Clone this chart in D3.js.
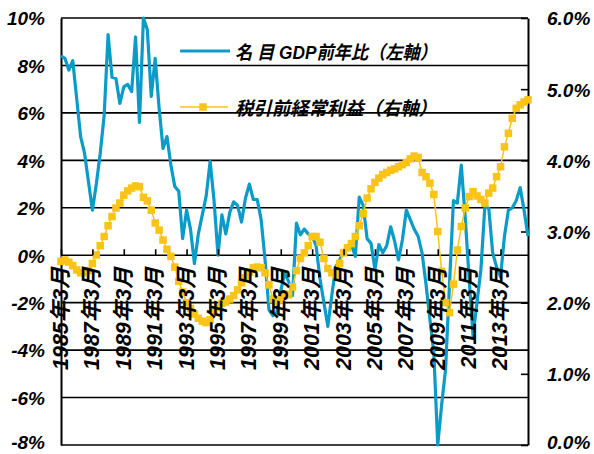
<!DOCTYPE html>
<html>
<head>
<meta charset="utf-8">
<script src="https://cdnjs.cloudflare.com/ajax/libs/d3/7.8.5/d3.min.js"></script>
<style>
  body { margin: 0; background: #fff; }
  text {
    font-family: "Liberation Sans", Arial, "Noto Sans CJK JP", sans-serif;
    font-weight: bold;
    font-style: italic;
    fill: #000;
  }
</style>
</head>
<body>
<svg id="chart" width="594" height="454"></svg>
<script>
// quarterly categories, 1985年3月 .. 2014年12月
const quarters = [];
for (let yr = 1985; yr <= 2014; yr++) {
  [3, 6, 9, 12].forEach(m => quarters.push(yr + '年' + m + '月'));
}

const tickLabels = ['1985年3月', '1987年3月', '1989年3月', '1991年3月', '1993年3月',
  '1995年3月', '1997年3月', '1999年3月', '2001年3月', '2003年3月', '2005年3月',
  '2007年3月', '2009年3月', '2011年3月', '2013年3月'];

const leftTicks = [-8, -6, -4, -2, 0, 2, 4, 6, 8, 10];
const rightTicks = [0, 1, 2, 3, 4, 5, 6];

const seriesNames = ['名 目 GDP前年比（左軸）', '税引前経常利益（右軸）'];

// 名目GDP前年比 (%)
const gdp = [
  8.4, 8.3, 7.8, 8.2, 6.6, 5.0, 4.3, 3.1, 1.9, 3.0,
  4.3, 5.9, 9.3, 7.5, 7.45, 6.4, 7.1, 7.2, 6.9, 9.2,
  5.6, 10.0, 9.5, 6.7, 8.3, 6.2, 4.5, 5.0, 3.8, 2.9,
  2.7, 0.7, 1.9, 1.1, -0.35, 0.9, 1.7, 2.5, 3.95, 2.3,
  0.0, 1.7, 0.9, 1.8, 2.25, 2.1, 1.4, 2.4, 3.0, 2.35,
  2.35, 1.5, -0.2, -2.3, -2.55, -2.4, -1.5, -0.75, -1.1, -1.7,
  1.35, 0.86, 1.1, 0.9, 0.8, 0.4, -1.0, -2.0, -3.0, -1.7,
  -0.5, -0.2, 0.15, 0.4, 0.45, -0.05, 2.45, 2.1, 0.7, 0.5,
  -0.6, 0.45, 0.1, 0.4, 1.2, 0.6, -0.2, 0.65, 1.9, 1.5,
  1.1, 0.8, 0.1, -1.2, -2.7, -4.1, -8.0, -6.3, -4.8, -1.2,
  2.3, 2.2, 3.8, 1.6, -1.0, -3.4, -2.0, -0.6, 2.05, 1.98,
  0.1, -0.5, -0.9, 0.8, 1.9, 2.0, 2.3, 2.85, 1.9, 0.8
];

// 税引前経常利益 (%)
const profit = [
  2.58, 2.6, 2.57, 2.52, 2.46, 2.42, 2.42, 2.45, 2.55, 2.67,
  2.8, 2.93, 3.08, 3.21, 3.33, 3.40, 3.51, 3.57, 3.61, 3.64,
  3.63, 3.48, 3.43, 3.30, 3.12, 3.02, 2.88, 2.75, 2.65, 2.5,
  2.3, 2.15, 2.0, 1.92, 1.84, 1.78, 1.74, 1.72, 1.76, 1.86,
  1.93, 1.99, 2.01, 2.05, 2.10, 2.18, 2.28, 2.35, 2.43, 2.49,
  2.50, 2.49, 2.42, 2.25, 2.05, 2.02, 2.04, 2.12, 2.11, 2.22,
  2.45, 2.62, 2.70, 2.80, 2.93, 2.93, 2.85, 2.62, 2.48, 2.42,
  2.39, 2.55, 2.70, 2.77, 2.83, 2.93, 3.08, 3.25, 3.47, 3.60,
  3.69, 3.75, 3.80, 3.83, 3.86, 3.88, 3.91, 3.94, 3.97, 4.02,
  4.06, 4.04, 3.83, 3.77, 3.68, 3.52, 3.0, 2.44, 2.0, 1.86,
  2.26, 2.74, 3.07, 3.33, 3.49, 3.56, 3.50, 3.45, 3.40, 3.54,
  3.61, 3.77, 3.91, 4.19, 4.38, 4.59, 4.73, 4.78, 4.82, 4.85
];

const blue = '#0a9bc8';
const gold = '#f9c416';

const svg = d3.select('#chart');
const plot = {left: 61, right: 528, top: 18, bottom: 445};

const x = d3.scalePoint()
  .domain(quarters)
  .range([plot.left, plot.right]);

const yL = d3.scaleLinear()
  .domain([-8, 10])
  .range([plot.bottom, plot.top]);

const yR = d3.scaleLinear()
  .domain([0, 6])
  .range([plot.bottom, plot.top]);

svg.append('rect')
  .attr('width', 594).attr('height', 454)
  .attr('fill', '#fff');

// gridlines
svg.append('g')
  .selectAll('line')
  .data(leftTicks)
  .enter().append('line')
  .attr('x1', plot.left).attr('x2', plot.right)
  .attr('y1', d => yL(d)).attr('y2', d => yL(d))
  .attr('stroke', '#000')
  .attr('stroke-width', 1.6);

// left axis
const leftAxis = svg.append('g')
  .attr('transform', 'translate(' + plot.left + ',0)')
  .call(d3.axisLeft(yL).tickValues(leftTicks).tickSize(0).tickPadding(16)
    .tickFormat(d => d + '%'));
leftAxis.select('.domain').attr('stroke', '#000').attr('stroke-width', 2);
leftAxis.selectAll('text')
  .attr('dy', d => d === -8 ? '0.2em' : '0.36em')
  .style('font-size', '19px');

// right axis
const rightAxis = svg.append('g')
  .attr('transform', 'translate(' + plot.right + ',0)')
  .call(d3.axisRight(yR).tickValues(rightTicks).tickSizeInner(-7).tickSizeOuter(0)
    .tickPadding(19).tickFormat(d => d.toFixed(1) + '%'));
rightAxis.select('.domain').attr('stroke', '#000').attr('stroke-width', 2);
rightAxis.selectAll('line').attr('stroke', '#000').attr('stroke-width', 1.6);
rightAxis.selectAll('text')
  .attr('dy', d => d === 0 ? '0.2em' : '0.36em')
  .style('font-size', '19px');

// series lines
const blueLine = d3.line()
  .x((d, i) => x(quarters[i]))
  .y(d => yL(d));

const goldLine = d3.line()
  .x((d, i) => x(quarters[i]))
  .y(d => yR(d));

svg.append('path')
  .datum(gdp)
  .attr('d', blueLine)
  .attr('fill', 'none')
  .attr('stroke', blue)
  .attr('stroke-width', 3.2)
  .attr('stroke-linejoin', 'round');

svg.append('path')
  .datum(profit)
  .attr('d', goldLine)
  .attr('fill', 'none')
  .attr('stroke', gold)
  .attr('stroke-width', 1.5);

const mk = 7.5;
svg.append('g')
  .selectAll('rect')
  .data(profit)
  .enter().append('rect')
  .attr('x', (d, i) => x(quarters[i]) - mk / 2)
  .attr('y', d => yR(d) - mk / 2)
  .attr('width', mk).attr('height', mk)
  .attr('fill', gold);

// x axis: ticks on the zero line, rotated labels
const xAxis = svg.append('g')
  .attr('transform', 'translate(0,' + yL(0) + ')')
  .call(d3.axisBottom(x).tickValues(tickLabels).tickSizeInner(-6).tickSizeOuter(0)
    .tickFormat(d => d));
xAxis.select('.domain').remove();
xAxis.selectAll('line').attr('stroke', '#000').attr('stroke-width', 1.6);
xAxis.selectAll('text')
  .attr('transform', 'rotate(-90)')
  .attr('text-anchor', 'end')
  .attr('x', -12)
  .attr('y', 0)
  .attr('dy', '0.3em')
  .style('font-size', '21.5px');

// legend
const legend = svg.append('g');
legend.append('line')
  .attr('x1', 180).attr('x2', 230)
  .attr('y1', 51).attr('y2', 51)
  .attr('stroke', blue).attr('stroke-width', 3.2);
legend.append('text')
  .attr('x', 235).attr('y', 59)
  .attr('textLength', 202)
  .attr('lengthAdjust', 'spacingAndGlyphs')
  .style('font-size', '18.5px')
  .text(seriesNames[0]);

legend.append('line')
  .attr('x1', 180).attr('x2', 228)
  .attr('y1', 107).attr('y2', 107)
  .attr('stroke', gold).attr('stroke-width', 1.5);
legend.append('rect')
  .attr('x', 203 - mk / 2).attr('y', 107 - mk / 2)
  .attr('width', mk).attr('height', mk)
  .attr('fill', gold);
legend.append('text')
  .attr('x', 235).attr('y', 115)
  .attr('textLength', 202)
  .attr('lengthAdjust', 'spacingAndGlyphs')
  .style('font-size', '18.5px')
  .text(seriesNames[1]);
</script>
</body>
</html>
